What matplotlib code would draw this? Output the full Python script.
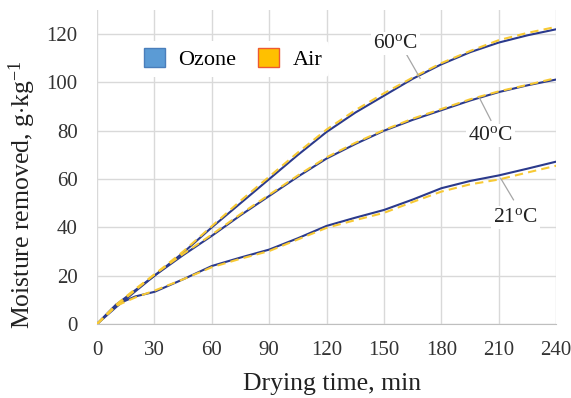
import matplotlib
matplotlib.use('Agg')
import matplotlib.pyplot as plt
from matplotlib.patches import Patch

plt.rcParams['font.family'] = ['Liberation Serif', 'DejaVu Serif']
plt.rcParams['mathtext.fontset'] = 'custom'
plt.rcParams['mathtext.rm'] = 'Liberation Serif'
plt.rcParams['mathtext.it'] = 'Liberation Serif:italic'

# drying time, min
time = [0, 10, 20, 30, 45, 60, 75, 90, 105, 120, 135, 150, 165, 180, 195, 210, 225, 240]

# moisture removed, g/kg
ozone_60 = [0, 8, 14, 20, 29.5, 40, 50, 60, 70, 79.5, 87.5, 94.5, 101.5, 107.5, 112.5, 116.5, 119.5, 122]
air_60 = [0, 8, 14.5, 20.5, 30, 40.5, 51, 61, 71, 80.5, 88.5, 95.5, 102, 108, 113, 117.5, 120.5, 123]
ozone_40 = [0, 7, 13.5, 20, 28.5, 36.5, 45, 53, 61, 68.5, 74.5, 80, 84.5, 88.5, 92.5, 96, 98.8, 101.2]
air_40 = [0, 7.5, 14, 20.5, 29, 37, 45.5, 53.5, 61.5, 69, 75, 80.3, 85, 89, 93, 96.3, 99, 101.8]
ozone_21 = [0, 8, 11.4, 13.3, 18.5, 24, 27.5, 30.8, 35.5, 40.6, 44, 47.2, 51.5, 56.2, 59.2, 61.5, 64.3, 67.2]
air_21 = [0, 7.5, 11, 13.8, 18.5, 23.5, 27, 30.2, 35, 39.8, 43, 46, 50.5, 54.8, 57.8, 59.8, 62.7, 65.5]

ozone_col = '#2B3A8C'
air_col = '#F7C934'

fig = plt.figure(figsize=(5.71, 3.98), dpi=100)
ax = fig.add_axes([0.170, 0.186, 0.804, 0.789])

for oz, ai in [(ozone_60, air_60), (ozone_40, air_40), (ozone_21, air_21)]:
    ax.plot(time, oz, color=ozone_col, lw=1.5, zorder=3)
    ax.plot(time, ai, color=air_col, lw=1.5, ls=(0, (4, 2.5)), zorder=4)

ax.set_xlim(0, 240)
ax.set_ylim(0, 130)
ax.set_xticks(range(0, 241, 30))
ax.set_yticks(range(0, 121, 20))
ax.grid(True, color='#D9D9D9', lw=1)
ax.set_axisbelow(True)
for s in ['top', 'right', 'left']:
    ax.spines[s].set_visible(False)
ax.spines['bottom'].set_color('#BFBFBF')
ax.tick_params(length=0, labelsize=15, colors='#333333')
ax.tick_params(axis='x', pad=12)
ax.tick_params(axis='y', pad=14)

ax.set_xlabel('Drying time, min', fontsize=18.5, color='#222222')
ax.xaxis.set_label_coords(0.512, -0.155)
ax.set_ylabel(r'Moisture removed, g$\cdot$kg$^{-1}$', fontsize=18.5, color='#222222')
ax.yaxis.set_label_coords(-0.128, 0.411)

# curve labels with leader lines
labels = [('60$^{\\rm o}$C', 156, 116, 161.9, 111.4, 168.9, 101.7),
          ('40$^{\\rm o}$C', 205.5, 78, 199.9, 93.6, 205.9, 84.3),
          ('21$^{\\rm o}$C', 218.6, 44, 211, 60.3, 217.7, 51.4)]
for txt, tx, ty, x0, y0, x1, y1 in labels:
    ax.plot([x0, x1], [y0, y1], color='#A6A6A6', lw=0.9, zorder=5)
    ax.text(tx, ty, txt, fontsize=15.5, ha='center', va='center', color='#222222', zorder=6,
            bbox=dict(facecolor='white', edgecolor='none', pad=1.5))

handles = [Patch(facecolor='#5B9BD5', edgecolor='#4A7EBB', label='Ozone'),
           Patch(facecolor='#FFC000', edgecolor='#ED5A31', label='Air')]
leg = ax.legend(handles=handles, loc='center', bbox_to_anchor=(0.296, 0.844), ncol=2,
                frameon=True, facecolor='white', edgecolor='none', framealpha=1,
                fontsize=16, handlelength=0.95, handleheight=0.95, handletextpad=0.6,
                columnspacing=1.0, borderpad=0.3)

fig.savefig('out.png', dpi=100)
